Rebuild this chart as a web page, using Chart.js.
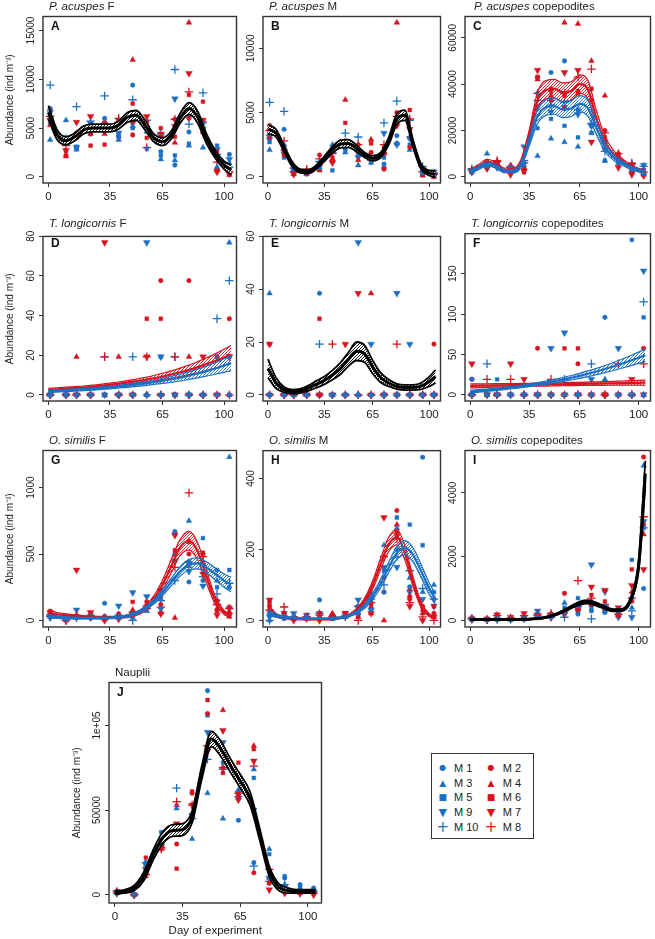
<!DOCTYPE html>
<html>
<head>
<meta charset="utf-8">
<script src="https://cdn.jsdelivr.net/npm/chart.js@4.4.0/dist/chart.umd.min.js"></script>
<style>
  body { margin: 0; background: #fff; width: 655px; height: 939px; position: relative; overflow: hidden;
         font-family: "Liberation Sans", Arial, sans-serif; color: #222; }
  canvas { position: absolute; }
  .ttl { position: absolute; font-size: 11.5px; line-height: 13px; white-space: nowrap; }
  .lab { position: absolute; font-size: 12px; line-height: 14px; font-weight: bold; color: #111; }
  #leg { position: absolute; left: 431px; top: 753px; width: 101px; height: 84px; border: 1.5px solid #333; }
  #leg span { position: absolute; line-height: 1; white-space: nowrap; }
  .sym { transform: translate(-50%, -50%); font-family: "DejaVu Sans", sans-serif; }
  .txt { transform: translateY(-50%); font-size: 11px; }
</style>
</head>
<body>
<script>
// sampling days and the days where the fitted curves are read
const days = [1, 10, 16, 24, 32, 40, 48, 56, 64, 72, 80, 88, 96, 103]
const fitDays = [0, 5, 10, 15, 20, 25, 30, 35, 40, 45, 50, 55, 60, 65, 70, 75, 80, 85, 90, 95, 100, 104]
const xTicks = [0, 35, 65, 100]
const mesoNames = ['M 1', 'M 2', 'M 3', 'M 4', 'M 5', 'M 6', 'M 7', 'M 8', 'M 9', 'M 10']

// rows = M1..M10, columns = days
const pacF = [
  [7000,3600,2900,5200,6000,4100,9400,4800,2600,1200,4600,5500,2000,2300],
  [6900,2200,4500,4400,5600,5500,4300,5600,3800,5900,6000,5800,600,300],
  [3800,5800,2800,4400,5000,3800,5200,4600,1800,1700,3200,3000,1000,1400],
  [5300,2100,4400,5000,4400,5200,12000,5300,4200,3500,15800,4600,900,200],
  [5500,3500,3100,4700,5200,4300,5000,2900,2200,2200,3400,4700,3200,900],
  [5900,2700,4000,3200,3300,4100,7500,4000,5000,4100,8400,7700,2600,400],
  [5800,2700,5600,6200,4900,5800,5500,6200,4400,5200,10600,5800,500,300],
  [6200,3200,4300,4600,4800,6000,6100,3000,3800,5900,8700,5600,1500,500],
  [6600,4000,3000,5500,5400,4500,6000,5000,4100,8000,6100,4900,2800,1800],
  [9400,3900,7200,5700,8300,5600,7900,5800,4400,11000,5400,8600,2300,1000]
]
const pacF_fit = [6600,4300,3700,4100,4800,5000,5000,5000,5300,6100,6300,5300,4000,3600,4300,6000,7000,6100,3900,2300,1200,700]
const pacF_se = [700,500,400,400,400,400,400,400,400,500,500,500,400,400,400,500,600,600,500,400,400,500]

const pacM = [
  [3300,3700,600,400,1100,2200,2200,2000,1500,1000,3200,3000,300,100],
  [4000,1700,300,300,1700,1200,2800,2500,1900,600,5000,2300,200,100],
  [2100,2500,400,200,700,2500,1900,900,1100,800,2600,2100,500,200],
  [3800,2200,200,500,500,1400,6000,1300,2900,2000,12000,3100,100,0],
  [2700,1500,500,300,900,500,2100,1700,1300,1500,2600,2500,600,300],
  [3500,2400,300,400,600,1500,4200,2000,2600,2300,4400,5200,200,100],
  [3100,2000,200,300,800,1100,2600,1900,1500,1700,4000,3700,300,100],
  [3600,2800,400,600,1400,1800,2500,2500,1300,2500,4700,4500,400,200],
  [2900,1800,500,400,1000,2000,2700,1500,1200,3400,2500,3000,700,400],
  [5800,5100,700,500,1200,1900,3400,3100,1600,4200,5900,4400,800,300]
]
const pacM_fit = [3700,3400,2200,1000,450,400,750,1400,2100,2550,2600,2200,1700,1450,1700,2800,4500,4800,2600,800,300,200]
const pacM_se = [350,300,250,200,150,150,150,200,250,300,300,250,200,200,200,300,400,400,300,200,200,250]

const pacC = [
  [2500,5000,5000,4000,6000,36000,45000,50000,29000,22000,12000,8000,4000,2000],
  [3000,6000,6500,4500,3000,43000,38000,35000,37000,33000,20000,10000,5000,2500],
  [2000,10000,4500,4000,5000,9000,16500,15000,13000,19000,7000,6000,3000,1500],
  [2800,5500,6000,5000,4000,42000,35000,66500,66000,50000,35000,9000,3000,1000],
  [2300,4500,4800,3500,3000,21000,25000,22000,17000,19000,7000,7000,5000,3000],
  [2500,4000,5500,2500,2000,43000,33000,30000,36000,38000,17000,9000,2500,3000],
  [2200,3500,6000,1000,2500,46000,37000,45000,46000,15000,15000,4000,1000,500],
  [3000,4500,7000,4000,6000,36000,33000,36000,43000,46500,19000,10000,6000,2000],
  [2000,4000,4000,3000,13000,30000,28000,30000,27000,22000,12000,6000,5000,5000],
  [3500,6000,6500,4500,7000,33000,31000,32000,29000,23000,11000,7500,5500,4500]
]
const pacC_redFit = [2500,4500,6500,5500,3000,2800,6000,18000,33000,37500,38000,36500,37000,40000,37500,25000,15000,10000,7000,4500,3000,2200]
const pacC_redSe = [800,800,1000,900,800,800,1200,2000,3500,4000,4000,4000,4000,4000,4000,3500,2500,1500,1000,800,700,700]
const pacC_blueFit = [2300,3800,5500,4600,2500,2300,5000,15000,26000,30000,30500,29000,29500,31500,29500,21000,13000,8500,6000,4000,2700,2000]
const pacC_blueSe = [700,700,800,800,700,700,1000,1800,3000,3500,3500,3500,3500,3500,3500,3000,2000,1300,900,700,600,600]

const tloF = [
  [0,0,0,0,0,0,0,0,0,0,0,0,0,0],
  [0,0,0,0,0,0,0,0,57.6,0,57.6,0,0,38.4],
  [0,0,0,0,0,0,0,0,0,0,0,0,19.2,76.8],
  [0,0,19.2,0,0,19.2,0,0,0,0,19.2,0,0,0],
  [0,0,0,0,0,0,0,0,19.2,0,0,0,0,19.2],
  [0,0,0,0,0,0,0,38.4,38.4,0,0,0,19.2,0],
  [0,0,0,0,76.8,0,0,19.2,0,0,0,19.2,0,19.2],
  [0,0,0,0,19.2,0,0,19.2,0,19.2,0,0,0,0],
  [0,0,0,0,0,0,0,76.8,19.2,0,0,0,0,19.2],
  [0,0,0,0,19.2,0,19.2,0,0,19.2,0,0,38.4,57.6]
]
const tloF_redFit = [2.5,2.8,3.1,3.4,3.7,4.1,4.6,5.1,5.6,6.2,6.9,7.6,8.4,9.3,10.3,11.4,12.6,14.0,15.5,17.1,18.9,20.4]
const tloF_redSe = [0.8,0.8,0.8,0.8,0.8,0.8,0.8,0.8,0.9,1.0,1.1,1.2,1.4,1.6,1.8,2.1,2.4,2.8,3.2,3.6,4.1,4.5]
const tloF_blueFit = [1.8,2.0,2.2,2.5,2.7,3.0,3.4,3.7,4.2,4.6,5.2,5.7,6.4,7.1,7.9,8.7,9.7,10.8,12.0,13.3,14.8,16.0]
const tloF_blueSe = [0.6,0.6,0.6,0.6,0.6,0.6,0.6,0.7,0.7,0.8,0.9,1.0,1.1,1.3,1.5,1.7,1.9,2.2,2.5,2.9,3.4,3.8]

const tloM = [
  [0,0,0,0,38.4,0,0,0,0,0,0,0,0,0],
  [19.2,0,0,0,0,0,0,19.2,0,0,0,0,0,19.2],
  [38.4,0,0,0,0,0,0,0,0,0,0,0,0,0],
  [0,0,0,0,0,0,0,0,38.4,0,0,0,0,0],
  [0,0,0,0,0,0,0,0,0,0,0,0,0,0],
  [0,0,0,0,28.8,0,0,0,0,0,0,0,0,0],
  [19.2,0,0,0,0,0,19.2,38.4,0,0,0,0,0,0],
  [0,0,0,0,0,19.2,0,0,0,0,19.2,0,0,0],
  [0,0,0,0,0,0,0,57.6,19.2,0,38.4,19.2,0,0],
  [0,0,0,0,19.2,0,0,0,0,0,0,0,0,0]
]
const tloM_fit = [10,4.5,2.0,1.2,1.5,2.5,4.0,5.5,7.5,10.0,13.5,16.5,15.5,10.5,6.5,4.5,3.2,2.8,2.8,3.3,5.0,7.0]
const tloM_se = [3.5,2.0,1.0,0.8,0.8,1.0,1.3,1.5,1.8,2.2,2.6,3.5,3.2,2.5,1.8,1.3,1.0,1.0,1.0,1.2,1.8,2.5]

const tloC = [
  [19.2,0,0,0,0,0,0,0,0,0,96,0,0,0],
  [19.2,0,0,0,0,57.6,0,0,38.4,0,0,0,0,57.6],
  [0,0,0,0,0,0,0,0,0,0,19.2,0,0,0],
  [0,0,0,0,0,0,0,0,0,0,0,0,0,0],
  [0,0,19.2,0,0,0,0,0,0,0,0,0,192,96],
  [0,0,0,0,0,0,0,57.6,57.6,0,0,0,0,0],
  [38.4,0,0,38.4,19.2,0,0,0,0,0,0,0,19.2,0],
  [0,19.2,0,19.2,0,0,19.2,0,0,0,0,38.4,0,38.4],
  [0,0,0,0,0,0,57.6,76.8,0,19.2,0,57.6,0,153.6],
  [0,38.4,0,0,0,0,0,19.2,0,38.4,0,0,0,115.2]
]
const tloC_redFit = [11.0,11.2,11.4,11.6,11.8,12.0,12.2,12.4,12.6,12.7,12.9,13.1,13.3,13.5,13.7,13.9,14.1,14.3,14.5,14.7,14.9,15.0]
const tloC_redSe = [2.5,2.4,2.3,2.2,2.1,2.0,1.9,1.9,1.9,1.9,1.9,1.9,2.0,2.0,2.1,2.2,2.3,2.4,2.6,2.8,3.0,3.2]
const tloC_blueFit = [4.0,4.8,5.7,6.7,7.8,9.0,10.3,11.7,13.3,15.0,16.9,18.9,21.1,23.5,26.1,28.9,31.9,35.1,38.5,42.1,45.9,49.0]
const tloC_blueSe = [1.5,1.5,1.5,1.5,1.5,1.5,1.5,1.6,1.8,2.0,2.2,2.5,2.8,3.1,3.5,3.9,4.4,5.0,5.6,6.3,7.0,7.6]

const osiF = [
  [40,10,20,20,130,30,50,100,90,670,290,300,380,250],
  [70,0,30,20,10,40,60,140,120,660,500,500,150,60],
  [30,10,30,30,20,20,20,70,160,500,750,430,300,1230],
  [60,0,40,50,10,30,80,120,60,20,600,420,90,30],
  [40,20,30,30,20,30,40,90,230,500,440,620,250,380],
  [50,10,20,40,30,50,140,110,180,530,590,510,70,100],
  [60,10,380,60,0,10,50,100,50,640,430,350,40,40],
  [40,0,40,30,10,30,60,90,100,400,960,480,120,90],
  [20,10,80,20,10,110,210,180,230,450,370,260,140,90],
  [30,0,20,40,20,40,0,110,150,300,400,330,200,280]
]
const osiF_redFit = [55,45,38,32,28,25,23,23,25,32,50,90,160,270,410,550,600,520,330,150,60,30]
const osiF_redSe = [20,15,12,10,8,8,8,8,8,10,12,18,25,35,50,60,70,65,50,30,15,12]
const osiF_blueFit = [30,25,20,18,17,17,18,20,25,35,55,90,140,210,290,370,420,430,400,350,300,270]
const osiF_blueSe = [12,10,8,7,6,6,6,6,7,8,10,13,17,22,28,35,40,42,42,45,50,55]

const osiM = [
  [20,10,10,10,58,5,10,20,30,80,200,95,460,60],
  [40,20,5,10,20,10,20,30,50,80,310,60,40,20],
  [0,10,10,5,5,5,10,20,78,212,260,120,80,100],
  [30,10,5,10,10,20,10,10,20,0,270,70,20,10],
  [15,5,10,10,10,5,15,40,60,140,290,270,212,80],
  [50,20,5,15,10,15,20,10,40,120,250,90,30,40],
  [58,10,0,5,0,10,20,35,20,290,240,40,0,10],
  [30,38,10,10,15,10,10,0,50,180,230,50,10,0],
  [10,20,20,15,20,10,20,58,30,150,150,80,60,40],
  [0,10,10,10,20,10,15,40,60,100,180,140,90,60]
]
const osiM_redFit = [35,15,8,5,4,3,3,3,4,7,14,28,55,100,160,215,235,190,110,45,15,8]
const osiM_redSe = [10,5,3,2,2,1,1,1,2,2,3,5,8,12,16,20,22,20,14,8,4,3]
const osiM_blueFit = [22,14,9,7,6,5,5,5,6,8,13,23,40,68,105,150,190,205,185,140,90,60]
const osiM_blueSe = [8,5,3,2,2,2,2,2,2,2,3,4,6,9,12,15,18,20,20,18,16,15]

const osiC = [
  [50,20,50,30,60,100,150,250,200,300,450,300,700,1000],
  [80,40,60,50,80,150,200,850,300,500,400,200,600,5120],
  [30,20,30,20,40,200,120,550,450,500,300,250,400,4850],
  [40,30,100,50,40,150,220,300,450,600,350,150,900,2700],
  [60,50,50,40,50,80,100,400,700,400,250,350,1900,2900],
  [70,60,120,60,100,120,180,250,250,800,600,300,1600,3000],
  [50,40,180,100,220,180,100,200,350,1050,950,400,1100,1600],
  [60,30,150,80,150,200,220,300,1250,700,500,200,700,3250],
  [30,20,40,30,100,300,150,200,300,1750,900,100,100,3100],
  [40,20,30,40,50,150,100,100,450,50,450,300,300,2900]
]
const osiC_fit = [30,30,30,30,30,30,35,40,60,100,170,280,420,540,580,510,400,320,330,620,1700,4600]
const osiC_se = [15,12,10,10,10,10,10,10,12,15,20,30,40,50,55,50,40,35,35,60,150,400]

const naup = [
  [2000,0,19000,30000,40000,45000,120500,85000,44000,19000,10000,10000,6000,4000],
  [1500,0,14000,28000,30000,60000,107000,75000,58000,13000,7000,3000,2000,1000],
  [1000,500,17000,33000,51000,33000,60000,45000,62000,74000,27000,6000,4000,3000],
  [2000,0,11000,27000,53000,47000,88000,109000,60000,88000,10000,3000,1000,2000],
  [1500,0,18000,37000,40000,45000,106000,78000,58000,69000,24000,11000,5000,3000],
  [1000,0,22000,30000,15500,61000,115000,72000,78000,86000,7000,4000,2000,1000],
  [1000,0,15000,28000,42000,53000,85000,97000,56000,79000,3000,1000,1000,0],
  [2000,0,12000,27000,55000,53000,88000,75000,60000,76000,15000,3000,1000,1000],
  [1500,0,18000,29000,40000,47000,96000,90000,60000,50000,10000,5000,2000,2000],
  [1000,0,19000,28000,63000,45000,80000,74000,58000,17000,8000,6000,3000,2000]
]
const naup_fit = [1500,2000,4000,11000,24000,34000,38000,38500,46000,72000,92000,86000,76000,67000,57000,36000,14000,4500,2500,2000,2000,2000]
const naup_se = [1000,1000,1500,2500,3000,3500,3500,3500,3500,4000,4500,4500,4000,4000,4000,3500,3000,2000,1500,1000,1000,1000]

const FONT = '"Liberation Sans", Arial, sans-serif'
const COLS = { blue: '#1b70c4', red: '#d7131f', black: '#000' }
// colour, point style, radius, rotation for M1..M10
const mesoStyle = [
  ['blue', 'circle', 2.3, 0], ['red', 'circle', 2.3, 0],
  ['blue', 'triangle', 3.3, 0], ['red', 'triangle', 3.3, 0],
  ['blue', 'rect', 2.7, 0], ['red', 'rect', 2.7, 0],
  ['red', 'triangle', 3.9, 180], ['red', 'cross', 4.2, 0],
  ['blue', 'triangle', 3.9, 180], ['blue', 'cross', 4.2, 0]
]

const panels = [
  { id: 'A', title: '<i>P. acuspes</i> F', box: [43, 15, 238, 183], y: [-632, 16432], yTicks: [0, 5000, 10000, 15000], rows: pacF, fits: [['black', pacF_fit, pacF_se]], yTitle: true },
  { id: 'B', title: '<i>P. acuspes</i> M', box: [263, 15, 442, 183], y: [-480, 12480], yTicks: [0, 5000, 10000], rows: pacM, fits: [['black', pacM_fit, pacM_se]] },
  { id: 'C', title: '<i>P. acuspes</i> copepodites', box: [465, 15, 652, 183], y: [-2660, 69160], yTicks: [0, 20000, 40000, 60000], rows: pacC, fits: [['red', pacC_redFit, pacC_redSe], ['blue', pacC_blueFit, pacC_blueSe]] },
  { id: 'D', title: '<i>T. longicornis</i> F', box: [43, 232, 238, 401], y: [-3.07, 79.87], yTicks: [0, 20, 40, 60, 80], rows: tloF, fits: [['red', tloF_redFit, tloF_redSe], ['blue', tloF_blueFit, tloF_blueSe]], yTitle: true },
  { id: 'E', title: '<i>T. longicornis</i> M', box: [263, 232, 442, 401], y: [-2.3, 59.9], yTicks: [0, 20, 40, 60], rows: tloM, fits: [['black', tloM_fit, tloM_se]] },
  { id: 'F', title: '<i>T. longicornis</i> copepodites', box: [465, 232, 652, 401], y: [-7.68, 199.68], yTicks: [0, 50, 100, 150], rows: tloC, fits: [['red', tloC_redFit, tloC_redSe], ['blue', tloC_blueFit, tloC_blueSe]] },
  { id: 'G', title: '<i>O. similis</i> F', box: [43, 449, 238, 627], y: [-49.2, 1279.2], yTicks: [0, 500, 1000], rows: osiF, fits: [['red', osiF_redFit, osiF_redSe], ['blue', osiF_blueFit, osiF_blueSe]], yTitle: true },
  { id: 'H', title: '<i>O. similis</i> M', box: [263, 449, 442, 627], y: [-18.4, 478.4], yTicks: [0, 200, 400], rows: osiM, fits: [['red', osiM_redFit, osiM_redSe], ['blue', osiM_blueFit, osiM_blueSe]] },
  { id: 'I', title: '<i>O. similis</i> copepodites', box: [465, 449, 652, 627], y: [-204.8, 5324.8], yTicks: [0, 2000, 4000], rows: osiC, fits: [['black', osiC_fit, osiC_se]] },
  { id: 'J', title: 'Nauplii', box: [109, 681, 323, 903], y: [-4820, 125320], yTicks: [0, 50000, 100000], rows: naup, fits: [['black', naup_fit, naup_se]], yTitle: true, xTitle: true }
]

const mc = document.createElement('canvas').getContext('2d')
function textW(s, size) { mc.font = size + 'px ' + FONT; return mc.measureText(s).width }
function yLabel(v) { return v >= 100000 ? '1e+05' : String(v) }

// dense diagonal hatching used for the confidence bands
function hatch(color, bg) {
  const s = 3
  const c = document.createElement('canvas')
  c.width = c.height = s
  const g = c.getContext('2d')
  if (bg) { g.fillStyle = bg; g.fillRect(0, 0, s, s) }
  g.strokeStyle = color
  g.lineWidth = 0.9
  g.beginPath()
  g.moveTo(0, s); g.lineTo(s, 0)
  g.moveTo(-1, 1); g.lineTo(1, -1)
  g.moveTo(s - 1, s + 1); g.lineTo(s + 1, s - 1)
  g.stroke()
  return g.createPattern(c, 'repeat')
}

const boxPlugin = {
  id: 'box',
  afterDatasetsDraw(chart) {
    const a = chart.chartArea, g = chart.ctx
    g.save()
    g.strokeStyle = '#333'
    g.lineWidth = 1.4
    g.strokeRect(a.left, a.top, a.right - a.left, a.bottom - a.top)
    g.restore()
  }
}

function addDiv(cls, html, left, top) {
  const d = document.createElement('div')
  d.className = cls
  d.innerHTML = html
  d.style.left = left + 'px'
  d.style.top = top + 'px'
  document.body.appendChild(d)
}

panels.forEach(p => {
  const [bl, bt, br, bb] = p.box
  const axW = p.yTitle ? (p.id === 'J' ? bl - 67 : bl) : 22
  const axH = p.xTitle ? 36 : 28
  const cv = document.createElement('canvas')
  cv.width = axW + (br - bl) + 4
  cv.height = 4 + (bb - bt) + axH
  cv.style.left = (bl - axW) + 'px'
  cv.style.top = (bt - 4) + 'px'
  document.body.appendChild(cv)

  const datasets = []
  mesoStyle.forEach((st, m) => {
    const col = COLS[st[0]]
    datasets.push({
      data: days.map((d, i) => ({ x: d, y: p.rows[m][i] })),
      showLine: false, pointStyle: st[1], rotation: st[3], pointRadius: st[2],
      pointBackgroundColor: col, pointBorderColor: col,
      pointBorderWidth: st[1] === 'cross' ? 1.3 : 0.4, order: 10
    })
  })
  p.fits.forEach((f, k) => {
    const col = COLS[f[0]], fit = f[1], se = f[2]
    const black = f[0] === 'black'
    const base = { showLine: true, pointRadius: 0, borderColor: col, cubicInterpolationMode: 'monotone' }
    datasets.push({ ...base, data: fitDays.map((d, i) => ({ x: d, y: fit[i] - se[i] })), borderWidth: black ? 1.8 : 1.2, fill: false, order: 5 - 2 * k })
    datasets.push({ ...base, data: fitDays.map((d, i) => ({ x: d, y: fit[i] + se[i] })), borderWidth: black ? 1.8 : 1.2, fill: '-1', backgroundColor: hatch(col, black ? '#fff' : null), order: 5 - 2 * k })
    datasets.push({ ...base, data: fitDays.map((d, i) => ({ x: d, y: fit[i] })), borderWidth: black ? 3 : 2.2, fill: false, order: 4 - 2 * k })
  })

  const widest = Math.max(...p.yTicks.map(v => textW(yLabel(v), 10)))

  new Chart(cv, {
    type: 'line',
    data: { datasets },
    options: {
      responsive: false, animation: false, devicePixelRatio: 1,
      layout: { padding: { top: 4, right: 4, left: 0, bottom: 0 } },
      plugins: { legend: { display: false }, tooltip: { enabled: false } },
      scales: {
        x: {
          type: 'linear', min: -3.08, max: 107.08,
          afterBuildTicks: s => { s.ticks = xTicks.map(v => ({ value: v })) },
          afterFit: s => { s.height = axH },
          grid: { drawOnChartArea: false, tickLength: 4, color: '#333' },
          border: { display: false },
          ticks: { font: { family: FONT, size: 11.5 }, color: '#222', padding: 3, maxRotation: 0, autoSkip: false },
          title: { display: !!p.xTitle, text: 'Day of experiment', font: { family: FONT, size: 11.5 }, color: '#222', padding: { top: 0, bottom: 1 } }
        },
        y: {
          type: 'linear', min: p.y[0], max: p.y[1],
          afterBuildTicks: s => { s.ticks = p.yTicks.map(v => ({ value: v })) },
          afterFit: s => { s.width = axW },
          grid: { drawOnChartArea: false, tickLength: 4, color: '#333' },
          border: { display: false },
          ticks: { font: { family: FONT, size: 10 }, color: '#222', minRotation: 90, maxRotation: 90, crossAlign: 'center', padding: 8 - widest / 2, autoSkip: false, callback: yLabel },
          title: { display: !!p.yTitle, text: 'Abundance (ind m⁻³)', font: { family: FONT, size: 10 }, color: '#222', padding: { top: 4, bottom: 0 } }
        }
      }
    },
    plugins: [boxPlugin]
  })

  addDiv('ttl', p.title, bl + (p.id === 'C' ? 9 : 6), bt - 15)
  addDiv('lab', p.id, bl + 8, bt + 4)
})

// legend
const leg = document.createElement('div')
leg.id = 'leg'
document.body.appendChild(leg)
const legOrder = [[0, 1], [2, 3], [4, 5], [8, 6], [9, 7]]
const glyph = { circle: ['●', 8], triangle: ['▲', 9], rect: ['■', 9], cross: ['+', 15] }
legOrder.forEach((pair, r) => {
  pair.forEach((m, c) => {
    const st = mesoStyle[m]
    const g = st[3] ? ['▼', 11] : glyph[st[1]]
    const y = 13.7 + r * 14.8
    const s = document.createElement('span')
    s.className = 'sym'
    s.textContent = g[0]
    s.style.fontSize = g[1] + 'px'
    s.style.color = COLS[st[0]]
    s.style.left = (c ? 59 : 10.7) + 'px'
    s.style.top = y + 'px'
    leg.appendChild(s)
    const t = document.createElement('span')
    t.className = 'txt'
    t.textContent = mesoNames[m]
    t.style.left = (c ? 70.7 : 22) + 'px'
    t.style.top = y + 'px'
    leg.appendChild(t)
  })
})
</script>
</body>
</html>
